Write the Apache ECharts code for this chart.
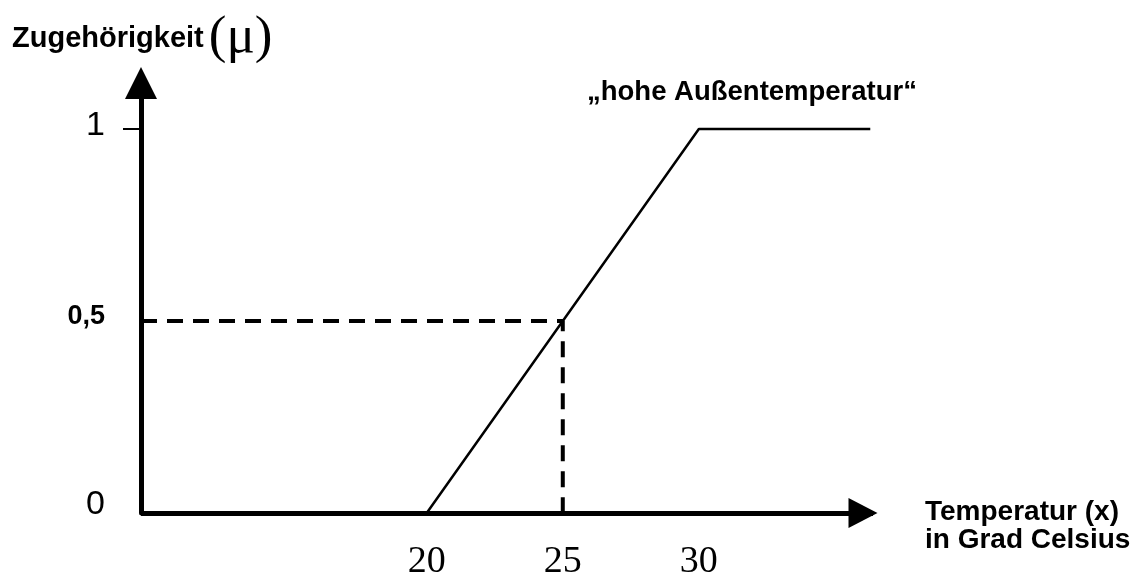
<!DOCTYPE html>
<html><head><meta charset="utf-8">
<script src="https://cdn.jsdelivr.net/npm/echarts@6/dist/echarts.min.js"></script>
<style>html,body{margin:0;padding:0;background:#fff}#c{width:1137px;height:574px}</style>
</head><body><div id="c"></div>
<script>
// ---- data ----
const curveX = [20, 30, 36.3];
const curveY = [0, 1, 1];
const guideX = 25;
const guideY = 0.5;
const xTickValues = [20, 25, 30];
const xTickLabels = ['20', '25', '30'];
const yTickValues = [0, 0.5, 1];
const yTickLabels = ['0', '0,5', '1'];
const yTickMarks = [1];
const seriesName = '\u201Ehohe Au\u00DFentemperatur\u201C';
const yTitleWord = 'Zugeh\u00F6rigkeit';
const yTitleSymbol = '(\u03BC)';
const xTitleLines = ['Temperatur (x)', 'in Grad Celsius'];

// ---- axis extents ----
const xMin = 9.5, xMax = 36.4;
const yMin = 0, yMax = 1.12;

const SANS = '"Liberation Sans", Arial, sans-serif';
const SERIF = '"Liberation Serif", "Times New Roman", serif';

const curveData = curveX.map((x, i) => [x, curveY[i]]);
const guideData = [[xMin, guideY], [guideX, guideY], [guideX, yMin]];

const chart = echarts.init(document.getElementById('c'), null, {renderer: 'canvas'});
chart.setOption({
  backgroundColor: '#fff',
  animation: false,
  title: [
    {
      text: '{a|' + yTitleWord + '} {b|' + yTitleSymbol + '}',
      left: 12, top: 12, padding: 0,
      textStyle: {
        rich: {
          a: {fontFamily: SANS, fontWeight: 'bold', fontSize: 29, color: '#000'},
          b: {fontFamily: SERIF, fontWeight: 'normal', fontSize: 53, color: '#000'}
        }
      }
    },
    {
      text: seriesName,
      left: 587, top: 78, padding: 0,
      textStyle: {fontFamily: SANS, fontWeight: 'bold', fontSize: 27.5, color: '#000'}
    },
    {
      text: xTitleLines.join('\n'),
      left: 925, top: 498, padding: 0,
      textStyle: {fontFamily: SANS, fontWeight: 'bold', fontSize: 28, lineHeight: 28, color: '#000'}
    }
  ],
  grid: {left: 141, top: 83, width: 732, bottom: 61, containLabel: false, outerBoundsMode: 'none'},
  xAxis: {
    type: 'value', min: xMin, max: xMax,
    splitLine: {show: false},
    axisTick: {show: false},
    axisLine: {
      show: true, lineStyle: {color: '#000', width: 5, cap: 'butt'},
      symbol: ['none', 'triangle'], symbolSize: [30, 29], symbolOffset: [0, -10]
    },
    axisLabel: {
      show: true, customValues: xTickValues, margin: 30,
      formatter: v => { const i = xTickValues.indexOf(v); return i >= 0 ? xTickLabels[i] : ''; },
      fontFamily: SERIF, fontSize: 38, color: '#000'
    }
  },
  yAxis: {
    type: 'value', min: yMin, max: yMax,
    splitLine: {show: false},
    axisTick: {show: true, customValues: yTickMarks, length: 18, lineStyle: {color: '#000', width: 2}},
    axisLine: {show: true, lineStyle: {color: '#000', width: 5}, symbol: ['none', 'triangle'], symbolSize: [32, 32]},
    axisLabel: {
      show: true, customValues: yTickValues, margin: 36,
      formatter: v => {
        const i = yTickValues.indexOf(v);
        if (i < 0) return '';
        const key = v === 0 ? 'z' : (v === 0.5 ? 'h' : 'o');
        return '{' + key + '|' + yTickLabels[i] + '}';
      },
      rich: {
        z: {fontFamily: SANS, fontSize: 34, color: '#000', padding: [0, 0, 16, 0]},
        h: {fontFamily: SANS, fontSize: 27, fontWeight: 'bold', color: '#000', padding: [0, 0, 8, 0]},
        o: {fontFamily: SANS, fontSize: 34, color: '#000', padding: [0, 0, 6, 0]}
      }
    }
  },
  series: [
    {
      name: seriesName, type: 'line', data: curveData, symbol: 'none', clip: false,
      lineStyle: {color: '#000', width: 2.5}, z: 3
    },
    {
      name: 'guide', type: 'line', data: guideData, symbol: 'none', clip: false,
      lineStyle: {color: '#000', width: 4, type: [16, 10]}, z: 2
    }
  ]
});
</script>
</body></html>
